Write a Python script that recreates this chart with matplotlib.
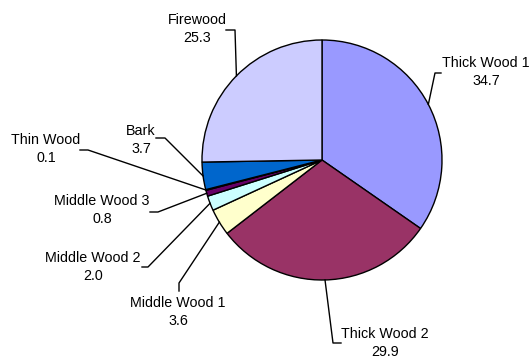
import numpy as np
import matplotlib.pyplot as plt

plt.rcParams['font.family'] = ['Liberation Sans', 'DejaVu Sans']

labels = ['Thick Wood 1', 'Thick Wood 2', 'Middle Wood 1', 'Middle Wood 2',
          'Middle Wood 3', 'Thin Wood', 'Bark', 'Firewood']
values = [34.7, 29.9, 3.6, 2.0, 0.8, 0.1, 3.7, 25.3]
colors = ['#9999FF', '#993366', '#FFFFCC', '#CCFFFF',
          '#660066', '#FF8080', '#0066CC', '#CCCCFF']

W, H = 530, 361
cx, cy, r = 322, H - 160, 120

# label text centre (pixel coords, y down) and the elbow of its leader line
label_pos = [(486, 72), (385, 343), (178, 312), (93, 267),
             (102, 210), (46, 149), (141, 140), (197, 29)]
elbows = [[(441, 73), (435, 73)],
          [(341, 343), (333, 343)],
          [(179, 291), (179, 283)],
          [(142, 267), (148, 267)],
          [(150, 212), (158, 212)],
          [(80, 150), (88, 150)],
          [(156, 138), (165, 138)],
          [(226, 30), (235, 30)]]

fig = plt.figure(figsize=(W / 100, H / 100), dpi=100)
ax = fig.add_axes([0, 0, 1, 1])
ax.pie(values, colors=colors, startangle=90, counterclock=False,
       center=(cx, cy), radius=r,
       wedgeprops=dict(edgecolor='black', linewidth=1))
ax.set_xlim(0, W)
ax.set_ylim(0, H)
ax.set_aspect('equal')
ax.axis('off')

total = sum(values)
cum = np.cumsum([0] + values)
for i, (name, v) in enumerate(zip(labels, values)):
    frac = (cum[i] + v / 2) / total
    ang = np.deg2rad(90 - 360 * frac)
    ex, ey = cx + r * np.cos(ang), cy + r * np.sin(ang)
    pts = [(x, H - y) for x, y in elbows[i]] + [(ex, ey)]
    xs, ys = zip(*pts)
    ax.plot(xs, ys, color='black', linewidth=1)
    tx, ty = label_pos[i]
    ax.text(tx, H - ty, f'{name}\n{v:.1f}', ha='center', va='center',
            fontsize=10.25, linespacing=1.4)

fig.savefig('out.png', dpi=100)
